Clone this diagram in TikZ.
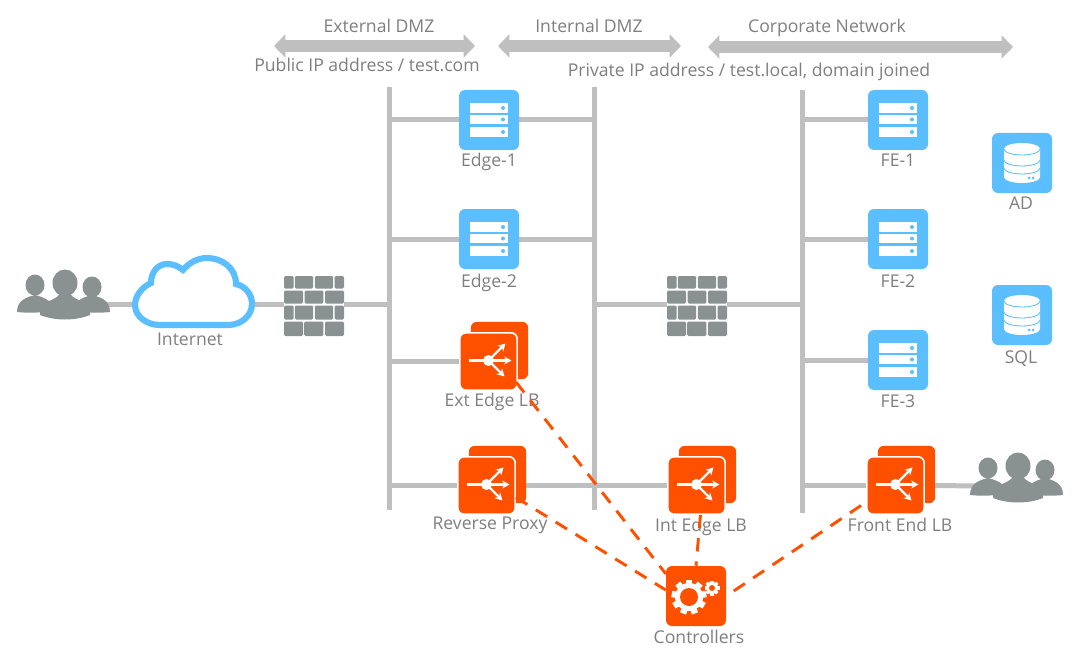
\documentclass[tikz,border=0pt]{standalone}
\usepackage{fontspec}
\setmainfont{Open Sans}
\usetikzlibrary{arrows.meta,calc}
\definecolor{skyb}{RGB}{90,190,255}
\definecolor{orng}{RGB}{255,80,0}
\definecolor{wirec}{RGB}{191,191,191}
\definecolor{stone}{RGB}{138,145,145}
\definecolor{txt}{RGB}{127,127,127}
\pgfdeclarelayer{bg}
\pgfdeclarelayer{top}
\pgfsetlayers{bg,main,top}
\tikzset{
  x=0.75pt,y=-0.75pt,
  blubox/.style={fill=skyb,rounded corners=4.5pt,minimum size=45pt,inner sep=0pt},
  ctrlbox/.style={fill=orng,rounded corners=4.5pt,minimum size=45pt,inner sep=0pt},
  lbfront/.style={fill=orng,draw=white,line width=1.2pt,rounded corners=4.5pt,minimum size=43pt,inner sep=0pt},
  lbback/.style={fill=orng,rounded corners=4.5pt,minimum size=43pt,inner sep=0pt},
  ghost/.style={minimum size=45pt,inner sep=0pt},
  wire/.style={draw=wirec,line width=3.75pt},
  dashline/.style={draw=orng,line width=2.2pt,dash pattern=on 10pt off 7.5pt},
  bigarrow/.style={draw=wirec,line width=8.5pt,{Triangle[length=8.5pt,width=17pt]}-{Triangle[length=8.5pt,width=17pt]}},
  captxt/.style={text=txt,font=\fontsize{13.2pt}{15pt}\selectfont,inner sep=0pt,text height=13pt,text depth=3pt},
  servericon/.pic={
    \foreach \t/\b in {-17/-7,-5/4,7/17}{
      \fill[white] (-19,\t) rectangle (19,\b);
      \fill[skyb] (14,{(\t+\b)/2}) circle [radius=2];
    }
  },
  dbicon/.pic={
    \fill[white] (-18,-14) -- (-18,14) arc[start angle=180,end angle=360,x radius=18,y radius=-6] -- (18,-14) arc[start angle=0,end angle=180,x radius=18,y radius=-6] -- cycle;
    \draw[skyb,line width=0.65pt] (-18,-14) arc[start angle=180,end angle=360,x radius=18,y radius=-6];
    \draw[skyb,line width=0.65pt] (-18,-3) arc[start angle=180,end angle=360,x radius=18,y radius=-6];
    \draw[skyb,line width=0.65pt] (-18,5) arc[start angle=180,end angle=360,x radius=18,y radius=-6];
    \fill[skyb] (7,15) circle [radius=1.5] (11,15) circle [radius=1.5];
  },
  lbicon/.pic={
    \fill[white] (0,-1) circle [radius=5.5];
    \draw[white,line width=1.8pt] (-20,-1) -- (0,-1);
    \draw[white,line width=1.8pt,-{Stealth[length=5.5pt,width=6pt]}] (0,-1) -- (17,-18);
    \draw[white,line width=1.8pt,-{Stealth[length=5.5pt,width=6pt]}] (0,-1) -- (23,-1);
    \draw[white,line width=1.8pt,-{Stealth[length=5.5pt,width=6pt]}] (0,-1) -- (16,15);
  },
  gearbig/.pic={
    \fill[white] (0,0) circle [radius=14];
    \foreach \a in {0,40,...,320}{
      \fill[white,rotate=\a] (-3.2,-17.5) rectangle (3.2,-10);
    }
    \fill[orng] (0,0) circle [radius=9];
  },
  gearsmall/.pic={
    \fill[white] (0,0) circle [radius=6];
    \foreach \a in {0,45,...,315}{
      \fill[white,rotate=\a] (-1.6,-7.5) rectangle (1.6,-4);
    }
    \fill[orng] (0,0) circle [radius=3];
  },
  bricks/.pic={
    \foreach \l/\r in {0/9.6,10.8/29.2,30.8/49.2,50.6/60}{\fill[stone,rounded corners=1pt] (\l,-28) rectangle (\r,-15.5);}
    \foreach \l/\r in {0/19,20.6/39.4,41/60}{\fill[stone,rounded corners=1pt] (\l,-13.5) rectangle (\r,-0.5);}
    \foreach \l/\r in {0/9.6,10.8/29.2,30.8/49.2,50.6/60}{\fill[stone,rounded corners=1pt] (\l,1.5) rectangle (\r,15.5);}
    \foreach \l/\r in {0/19,20.2/39.4,41/60}{\fill[stone,rounded corners=1pt] (\l,17.5) rectangle (\r,32);}
  },
  people/.pic={
    \fill[stone] (-30,-10) ellipse [x radius=9.5,y radius=10.5];
    \fill[stone] (27,-8) ellipse [x radius=9.5,y radius=10.5];
    \fill[stone] (-48,17) .. controls (-48,5) and (-38,2) .. (-30,0) .. controls (-22,2) and (-15,5) .. (-13,10) -- (-13,16) .. controls (-25,18) and (-40,18) .. (-48,17) -- cycle;
    \fill[stone] (45,17) .. controls (45,5) and (35,2) .. (27,0) .. controls (19,2) and (12,5) .. (10,10) -- (10,16) .. controls (22,18) and (37,18) .. (45,17) -- cycle;
    \fill[stone] (0,-12) ellipse [x radius=12.5,y radius=13.5];
    \fill[stone] (-25,20) -- (-25,12) .. controls (-22,7) and (-10,5) .. (-6,0) -- (6,0) .. controls (10,5) and (22,7) .. (25,12) -- (25,20) .. controls (10,26) and (-10,26) .. (-25,20) -- cycle;
  },
}
\begin{document}
\begin{tikzpicture}
\useasboundingbox (0,0) rectangle (1074,656);
\begin{pgfonlayer}{bg}\fill[white] (0,0) rectangle (1074,656);\end{pgfonlayer}

% bus coordinates
\coordinate (busAt) at (389,87);  \coordinate (busAb) at (389,510);
\coordinate (busBt) at (594,87);  \coordinate (busBb) at (594,510);
\coordinate (busCt) at (802,90);  \coordinate (busCb) at (802,513);

% server icons
\node[blubox] (edgeone) at (489,120) {};  \pic at (edgeone) {servericon};
\node[blubox] (edgetwo) at (489,239) {};  \pic at (edgetwo) {servericon};
\node[blubox] (feone)   at (898,120) {};  \pic at (feone) {servericon};
\node[blubox] (fetwo)   at (898,239) {};  \pic at (fetwo) {servericon};
\node[blubox] (fethree) at (898,360) {};  \pic at (fethree) {servericon};
\node[blubox] (ad)  at (1022,163) {};     \pic at (ad) {dbicon};
\node[blubox] (sql) at (1022,315) {};     \pic at (sql) {dbicon};

% load balancers
\node[lbback]  (extback) at (499.5,350.5) {};
\node[lbfront] (extlb)   at (488.5,361.5) {};  \pic at (extlb) {lbicon};
\node[lbback]  (revback) at (497.5,474.5) {};
\node[lbfront] (revlb)   at (486.5,485.5) {};  \pic at (revlb) {lbicon};
\node[lbback]  (intback) at (707.5,474.5) {};
\node[lbfront] (intlb)   at (696.5,485.5) {};  \pic at (intlb) {lbicon};
\node[lbback]  (frback)  at (906.5,474.5) {};
\node[lbfront] (frlb)    at (895.5,485.5) {};  \pic at (frlb) {lbicon};

% controllers
\node[ctrlbox] (ctrl) at (696,596) {};
\pic at ($(ctrl)+(-7,1)$) {gearbig};
\pic at ($(ctrl)+(16,-8)$) {gearsmall};

% firewalls
\node[ghost] (fwone) at (314,304) {};  \pic at ($(fwone)+(-30,0)$) {bricks};
\node[ghost] (fwtwo) at (697,304) {};  \pic at ($(fwtwo)+(-30,0)$) {bricks};

% people
\node[ghost] (usersl) at (65,304) {};  \pic at ($(usersl)+(0,-9)$) {people};
\node[ghost] (usersr) at (1018,486) {}; \pic at ($(usersr)+(0,-8)$) {people};

% cloud
\node[ghost] (internet) at (193,304) {};
\draw[skyb,line width=4.6pt,fill=white] (160,325) -- (228,325)
  .. controls (242,325) and (252,315) .. (252,304)
  .. controls (252,294) and (245,286) .. (236,284)
  .. controls (236,268) and (222,258) .. (207,258)
  .. controls (197,258) and (189,263) .. (183,270)
  .. controls (178,266) and (173,264) .. (167,264)
  .. controls (158,264) and (151,272) .. (151,283)
  .. controls (142,287) and (135,296) .. (135,305)
  .. controls (135,316) and (146,325) .. (160,325) -- cycle;

% captions
\node[captxt] (tedge1) at (489,160) {Edge-1};
\node[captxt] (tedge2) at (489,281) {Edge-2};
\node[captxt] (text)   at (492,400) {Ext Edge LB};
\node[captxt] (trev)   at (490,523) {Reverse Proxy};
\node[captxt] (tint)   at (701,525) {Int Edge LB};
\node[captxt] (tfr)    at (900,525) {Front End LB};
\node[captxt] (tctl)   at (699,637) {Controllers};
\node[captxt] (tfe1)   at (898,160) {FE-1};
\node[captxt] (tfe2)   at (898,281) {FE-2};
\node[captxt] (tfe3)   at (898,401) {FE-3};
\node[captxt] (tad)    at (1021,203) {AD};
\node[captxt] (tsql)   at (1021,357) {SQL};
\node[captxt] (tnet)   at (190,339) {Internet};
\node[captxt] (hext)   at (379,26) {External DMZ};
\node[captxt] (hint)   at (589,26) {Internal DMZ};
\node[captxt] (hcor)   at (827,26) {Corporate Network};
\node[captxt] (hpub)   at (367,65) {Public IP address / test.com};
\node[captxt] (hpri)   at (749,70) {Private IP address / test.local, domain joined};

% zone arrows
\coordinate (zaL) at (274,46); \coordinate (zaR) at (475,46);
\coordinate (zbL) at (498,46); \coordinate (zbR) at (681,46);
\coordinate (zcL) at (708,47); \coordinate (zcR) at (1013,47);
\draw[bigarrow] (zaL) -- (zaR);
\draw[bigarrow] (zbL) -- (zbR);
\draw[bigarrow] (zcL) -- (zcR);

\begin{pgfonlayer}{bg}
  \draw[wire] (busAt) -- (busAb);
  \draw[wire] (busBt) -- (busBb);
  \draw[wire] (busCt) -- (busCb);
  \draw[wire] (busAt |- edgeone) -- (busBt |- edgeone);
  \draw[wire] (busAt |- edgetwo) -- (busBt |- edgetwo);
  \draw[wire] (busAt |- extlb) -- (extlb);
  \draw[wire] (busAt |- revlb) -- (revlb);
  \draw[wire] (revlb) -- (intlb);
  \draw[wire] (busCt |- frlb) -- (frlb);
  \draw[wire] (frlb) -- (usersr);
  \draw[wire] (busCt |- feone) -- (feone);
  \draw[wire] (busCt |- fetwo) -- (fetwo);
  \draw[wire] (busCt |- fethree) -- (fethree);
  \draw[wire] (busBt |- fwtwo) -- (fwtwo);
  \draw[wire] (fwtwo) -- (busCt |- fwtwo);
  \draw[wire] (fwone) -- (busAt |- fwone);
  \draw[wire] (usersl) -- (internet);
  \draw[wire] (internet) -- (fwone);
\end{pgfonlayer}

\begin{pgfonlayer}{top}
  \draw[dashline] ($(extlb.south east)+(-2,-9)$) -- ($(ctrl.north west)+(0,8)$);
  \draw[dashline] ($(revlb.east)+(0,12)$) -- ($(ctrl.west)+(0,-6)$);
  \draw[dashline] ($(intlb.south)+(4,0)$) -- (ctrl.north);
  \draw[dashline] ($(frlb.west)+(-5,20)$) -- (ctrl.east);
\end{pgfonlayer}
\end{tikzpicture}
\end{document}
